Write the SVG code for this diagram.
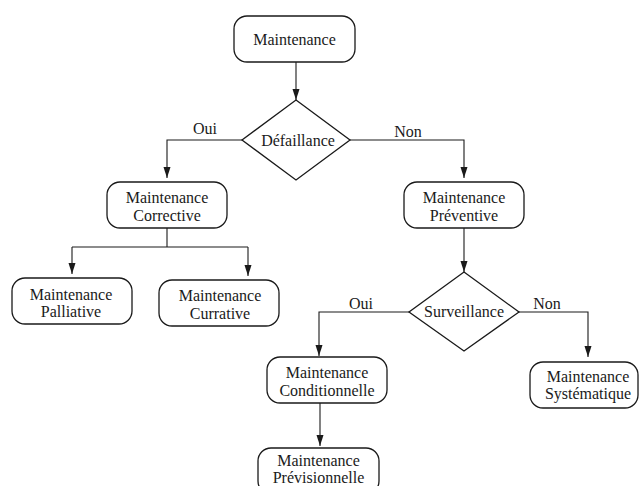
<svg xmlns="http://www.w3.org/2000/svg" width="640" height="486" viewBox="0 0 640 486">
<style>
.box{fill:#fff;stroke:#1a1a1a;stroke-width:1.3}
.dia{fill:#fff;stroke:#1a1a1a;stroke-width:1.3}
.t{font-family:'Liberation Serif','DejaVu Serif',serif;font-size:16px;fill:#1a1a1a;text-anchor:middle}
.c{fill:none;stroke:#1a1a1a;stroke-width:1.1}
.a{marker-end:url(#arr)}
</style>
<defs>
<marker id="arr" markerUnits="userSpaceOnUse" markerWidth="12" markerHeight="8" refX="11" refY="3.5" orient="auto">
<path d="M0,0 L11,3.5 L0,7 z" fill="#1a1a1a"/>
</marker>
</defs>
<rect width="640" height="486" fill="#fff"/>
<g id="connectors">
<path class="c a" d="M296,62 V100"/>
<path class="c a" d="M242,140 H167 V178"/>
<path class="c a" d="M350,140 H464 V178"/>
<path class="c" d="M167,228 V247 M72,247 H248"/>
<path class="c a" d="M72,247 V274"/>
<path class="c a" d="M248,247 V276"/>
<path class="c a" d="M464,228 V272"/>
<path class="c a" d="M410,312 H319 V356"/>
<path class="c a" d="M502,312 H588 V357"/>
<path class="c a" d="M320,403 V446"/>
<text class="t" x="205" y="134">Oui</text>
<text class="t" x="408" y="137">Non</text>
<text class="t" x="361" y="309">Oui</text>
<text class="t" x="547" y="309">Non</text>
</g>
<g id="maintenance">
<rect class="box" x="234" y="16" width="121" height="46" rx="13"/>
<text class="t" x="294.5" y="45">Maintenance</text>
</g>
<g id="defaillance">
<polygon class="dia" points="296,100 350,140 296,180 242,140"/>
<text class="t" x="298" y="146">Défaillance</text>
</g>
<g id="corrective">
<rect class="box" x="107" y="182" width="120" height="46" rx="13"/>
<text class="t" x="167" y="202.5">Maintenance</text>
<text class="t" x="167" y="220.5">Corrective</text>
</g>
<g id="preventive">
<rect class="box" x="404" y="182" width="120" height="46" rx="13"/>
<text class="t" x="464" y="202.5">Maintenance</text>
<text class="t" x="464" y="220.5">Préventive</text>
</g>
<g id="palliative">
<rect class="box" x="12" y="278" width="120" height="46" rx="13"/>
<text class="t" x="71" y="300">Maintenance</text>
<text class="t" x="71" y="317">Palliative</text>
</g>
<g id="curative">
<rect class="box" x="159" y="280" width="120" height="46" rx="13"/>
<text class="t" x="220" y="301">Maintenance</text>
<text class="t" x="220" y="319">Currative</text>
</g>
<g id="surveillance">
<polygon class="dia" points="464,272 519,312 464,351 409,312"/>
<text class="t" x="464" y="317">Surveillance</text>
</g>
<g id="conditionnelle">
<rect class="box" x="267" y="357" width="120" height="46" rx="13"/>
<text class="t" x="327" y="377.5">Maintenance</text>
<text class="t" x="327" y="396">Conditionnelle</text>
</g>
<g id="systematique">
<rect class="box" x="530" y="362" width="108" height="46" rx="13"/>
<text class="t" x="588" y="382">Maintenance</text>
<text class="t" x="588" y="399">Systématique</text>
</g>
<g id="previsionnelle">
<rect class="box" x="258" y="448" width="121" height="46" rx="13"/>
<text class="t" x="318.5" y="466">Maintenance</text>
<text class="t" x="318.5" y="483">Prévisionnelle</text>
</g>
</svg>
